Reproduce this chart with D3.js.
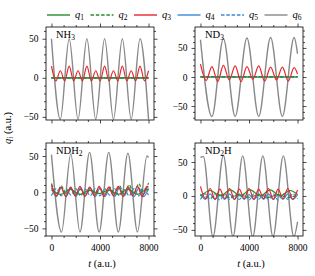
<!DOCTYPE html>
<html>
<head>
<meta charset="utf-8">
<script src="https://cdn.jsdelivr.net/npm/d3@7"></script>
<style>
  body { margin: 0; background: #fff; }
  svg text { font-family: "Liberation Serif", "DejaVu Serif", serif; fill: #000; }
</style>
</head>
<body>
<div class="chart"></div>
<script>
// tick values
var xMajor = [0, 4000, 8000];
var xMinor = [1000, 2000, 3000, 5000, 6000, 7000];
var yMajor = [-50, 0, 50];

// legend
var seriesSubs = ["1", "2", "3", "4", "5", "6"];

// NH3, points are [t, q]
var nh3_q1 = [[0, 0], [8000, 0]];
var nh3_q2 = [[0, 0], [8000, 0]];
var nh3_q3 = [[0, 15], [365, -4], [730, 9], [1095, -4], [1460, 15], [1825, -4], [2190, 9], [2555, -4],
  [2920, 15], [3285, -4], [3650, 9], [4015, -4], [4380, 15], [4745, -4], [5110, 9], [5475, -4],
  [5840, 15], [6205, -4], [6570, 9], [6935, -4], [7300, 15], [7665, -4], [8000, 9]];
var nh3_q4 = [[0, 0], [8000, 0]];
var nh3_q5 = [[0, 0], [8000, 0]];
var nh3_q6 = [[0, 50], [730, -53], [1460, 50], [2190, -53], [2920, 50], [3650, -53], [4380, 50],
  [5110, -53], [5840, 50], [6570, -53], [7300, 50], [8000, -53]];

// ND3
var nd3_q1 = [[0, 0], [8000, 0]];
var nd3_q2 = [[0, 0.5], [8000, 0.5]];
var nd3_q3 = [[0, 22], [470, -6], [945, 18], [1420, -8], [1890, 20], [2375, -5], [2860, 19], [3345, -8],
  [3830, 18], [4315, -4], [4800, 19], [5290, -7], [5780, 17], [6265, -5], [6750, 17], [7235, -7],
  [7720, 16], [8000, 5]];
var nd3_q4 = [[0, 0], [8000, 0]];
var nd3_q5 = [[0, 0], [8000, 0]];
var nd3_q6 = [[0, 64], [945, -68], [1890, 66], [2860, -68], [3830, 67], [4800, -68], [5780, 68],
  [6750, -68], [7720, 68], [8000, 40]];

// NDH2
var ndh2_q1 = [[0, 3], [780, -3], [1560, 4], [2350, -3], [3140, 3], [3930, -2], [4720, 3],
  [5510, -3], [6300, 4], [7090, -3], [7870, 4], [8000, 3]];
var ndh2_q2 = [[0, 12], [400, -2], [800, 9], [1200, -3], [1600, 6], [2000, -3], [2400, 4], [2800, -2],
  [3200, 3], [3600, -2], [4000, 5], [4400, -3], [4800, 7], [5200, -3], [5600, 9], [6000, -3],
  [6400, 10], [6800, -2], [7200, 12], [7600, -2], [8000, 13]];
var ndh2_q3 = [[0, 10], [390, -5], [790, 7], [1180, -6], [1580, 7], [1970, -5], [2350, 8], [2750, -6],
  [3140, 7], [3540, -5], [3930, 8], [4320, -6], [4720, 7], [5110, -5], [5510, 8], [5900, -6],
  [6300, 7], [6690, -5], [7090, 8], [7480, -6], [7870, 8], [8000, 7]];
var ndh2_q4 = [[0, 6], [400, -6], [800, 6], [1200, -6], [1600, 5], [2000, -6], [2400, 6], [2800, -5],
  [3200, 6], [3600, -6], [4000, 6], [4400, -6], [4800, 5], [5200, -6], [5600, 6], [6000, -5],
  [6400, 6], [6800, -6], [7200, 6], [7600, -6], [8000, 5]];
var ndh2_q5 = [[0, -5], [400, 5], [800, -5], [1200, 5], [1600, -4], [2000, 5], [2400, -5], [2800, 4],
  [3200, -5], [3600, 5], [4000, -5], [4400, 5], [4800, -4], [5200, 5], [5600, -5], [6000, 4],
  [6400, -5], [6800, 5], [7200, -5], [7600, 5], [8000, -4]];
var ndh2_q6 = [[0, 52], [830, -55], [1590, 53], [2350, -55], [3140, 55], [3930, -55], [4720, 55],
  [5510, -55], [6300, 54], [7090, -55], [7870, 50], [8000, 48]];

// ND2H
var nd2h_q1 = [[0, 0], [820, 8], [1640, 0], [2460, 9], [3280, 0], [4100, 9], [4920, 0], [5740, 9],
  [6560, 0], [7380, 8], [8000, 2]];
var nd2h_q2 = [[0, 1], [800, -2], [1600, 2], [2400, -2], [3200, 2], [4000, -2], [4800, 2],
  [5600, -2], [6400, 2], [7200, -2], [8000, 1]];
var nd2h_q3 = [[0, 14], [400, -4], [800, 11], [1200, -5], [1600, 10], [2000, -4], [2400, 11], [2800, -5],
  [3200, 10], [3600, -4], [4000, 11], [4400, -5], [4800, 10], [5200, -4], [5600, 11], [6000, -5],
  [6400, 10], [6800, -4], [7200, 11], [7600, -5], [8000, 9]];
var nd2h_q4 = [[0, 3], [400, -5], [800, 3], [1200, -5], [1600, 2], [2000, -5], [2400, 3], [2800, -5],
  [3200, 3], [3600, -5], [4000, 2], [4400, -5], [4800, 3], [5200, -5], [5600, 3], [6000, -5],
  [6400, 2], [6800, -5], [7200, 3], [7600, -5], [8000, 2]];
var nd2h_q5 = [[0, -5], [400, 3], [800, -5], [1200, 3], [1600, -6], [2000, 3], [2400, -5], [2800, 2],
  [3200, -5], [3600, 3], [4000, -6], [4400, 3], [4800, -5], [5200, 2], [5600, -5], [6000, 3],
  [6400, -6], [6800, 3], [7200, -5], [7600, 3], [8000, -4]];
var nd2h_q6 = [[0, 57], [240, 58], [1030, -60], [1890, 60], [2680, -60], [3480, 59], [4310, -60],
  [5140, 59], [5980, -60], [6830, 59], [7700, -60], [8000, -38]];

var colors = ["#2a8c2a", "#2a8c2a", "#e8262b", "#3a8ad6", "#3a8ad6", "#888888"];
var dashes = [null, "3.5,1.8", null, null, "3.5,1.8", null];

var panels = [
  { label: [["NH", 0], ["3", 1]], series: [nh3_q1, nh3_q2, nh3_q3, nh3_q4, nh3_q5, nh3_q6],
    yDomain: [-54, 65], left: 46, top: 27, bottom: false },
  { label: [["ND", 0], ["3", 1]], series: [nd3_q1, nd3_q2, nd3_q3, nd3_q4, nd3_q5, nd3_q6],
    yDomain: [-74, 86], left: 195, top: 27, bottom: false },
  { label: [["NDH", 0], ["2", 1]], series: [ndh2_q1, ndh2_q2, ndh2_q3, ndh2_q4, ndh2_q5, ndh2_q6],
    yDomain: [-60.5, 68], left: 46, top: 143, bottom: true },
  { label: [["ND", 0], ["2", 1], ["H", 0]], series: [nd2h_q1, nd2h_q2, nd2h_q3, nd2h_q4, nd2h_q5, nd2h_q6],
    yDomain: [-59, 78], left: 195, top: 143, bottom: true }
];

var pw = 108, ph = 93;
var drawOrder = [5, 4, 3, 1, 0, 2];
var fmt = d3.format("d");

var svg = d3.select(".chart").append("svg")
  .attr("width", 315)
  .attr("height", 276);

panels.forEach(function(p, i) {
  var g = svg.append("g").attr("transform", `translate(${p.left}, ${p.top})`);

  var x = d3.scaleLinear().domain([-450, 8450]).range([0, pw]);
  var y = d3.scaleLinear().domain(p.yDomain).range([ph, 0]);

  var yMinor = d3.range(-70, 90, 10).filter(function(v) {
    return v > p.yDomain[0] && v < p.yDomain[1] && yMajor.indexOf(v) < 0;
  });

  g.append("clipPath").attr("id", "clip" + i)
    .append("rect").attr("width", pw).attr("height", ph);

  var line = d3.line()
    .x(d => x(d[0]))
    .y(d => y(d[1]))
    .curve(d3.curveMonotoneX);

  var plot = g.append("g").attr("clip-path", `url(#clip${i})`);
  drawOrder.forEach(function(k) {
    plot.append("path")
      .datum(p.series[k])
      .attr("d", line)
      .attr("fill", "none")
      .attr("stroke", colors[k])
      .attr("stroke-width", k == 5 ? 1.4 : 1.2)
      .attr("stroke-dasharray", dashes[k]);
  });

  // axes, ticks outward on every side
  function addAxis(axis, tr) {
    var a = g.append("g").attr("transform", tr).call(axis);
    a.select(".domain").remove();
    a.selectAll("line").attr("stroke", "#000").attr("stroke-width", 0.7);
    a.selectAll("text")
      .style("font-family", "'Liberation Serif', 'DejaVu Serif', serif")
      .style("font-size", "9.5px");
    return a;
  }

  addAxis(d3.axisLeft(y).tickValues(yMajor).tickSize(3.5).tickPadding(4).tickFormat(fmt), "translate(0,0)");
  addAxis(d3.axisLeft(y).tickValues(yMinor).tickSize(2).tickFormat(""), "translate(0,0)");
  addAxis(d3.axisRight(y).tickValues(yMajor).tickSize(3.5).tickFormat(""), `translate(${pw},0)`);
  addAxis(d3.axisRight(y).tickValues(yMinor).tickSize(2).tickFormat(""), `translate(${pw},0)`);
  addAxis(d3.axisTop(x).tickValues(xMajor).tickSize(3.5).tickFormat(""), "translate(0,0)");
  addAxis(d3.axisTop(x).tickValues(xMinor).tickSize(2).tickFormat(""), "translate(0,0)");
  var bx = d3.axisBottom(x).tickValues(xMajor).tickSize(3.5).tickPadding(5)
    .tickFormat(p.bottom ? fmt : "");
  addAxis(bx, `translate(0,${ph})`);
  addAxis(d3.axisBottom(x).tickValues(xMinor).tickSize(2).tickFormat(""), `translate(0,${ph})`);

  g.append("rect")
    .attr("width", pw)
    .attr("height", ph)
    .attr("fill", "none")
    .attr("stroke", "#000")
    .attr("stroke-width", 0.8);

  // molecule label
  var t = g.append("text")
    .attr("x", 10)
    .attr("y", 11)
    .style("font-size", "10.5px");
  p.label.forEach(function(s, j) {
    var ts = t.append("tspan").text(s[0]);
    if (s[1]) ts.attr("dy", 2).style("font-size", "7.5px");
    else if (j > 0) ts.attr("dy", -2);
  });

  if (p.bottom) {
    var xl = g.append("text")
      .attr("x", pw / 2 + 2)
      .attr("y", ph + 31)
      .attr("text-anchor", "middle")
      .style("font-size", "10.5px");
    xl.append("tspan").style("font-style", "italic").text("t");
    xl.append("tspan").text(" (a.u.)");
  }
});

// y label
var yl = svg.append("text")
  .attr("transform", "translate(11, 128) rotate(-90)")
  .attr("text-anchor", "middle")
  .style("font-size", "10.5px");
yl.append("tspan").style("font-style", "italic").text("q");
yl.append("tspan").attr("dy", 2).style("font-size", "7.5px").style("font-style", "italic").text("i");
yl.append("tspan").attr("dy", -2).text(" (a.u.)");

// legend
var legend = svg.append("g");
seriesSubs.forEach(function(s, k) {
  var lx = 47 + k * 43.5;
  legend.append("line")
    .attr("x1", lx).attr("x2", lx + 23)
    .attr("y1", 15).attr("y2", 15)
    .attr("stroke", colors[k])
    .attr("stroke-width", 1.4)
    .attr("stroke-dasharray", dashes[k]);
  var lt = legend.append("text")
    .attr("x", lx + 28)
    .attr("y", 17.5)
    .style("font-size", "10.5px");
  lt.append("tspan").style("font-style", "italic").text("q");
  lt.append("tspan").attr("dy", 2).style("font-size", "7.5px").text(s);
});
</script>
</body>
</html>
